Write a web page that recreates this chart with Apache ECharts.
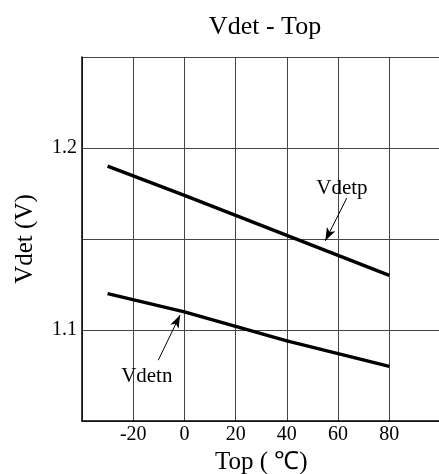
<!DOCTYPE html>
<html>
<head>
<meta charset="utf-8">
<script src="https://cdn.jsdelivr.net/npm/echarts@6/dist/echarts.min.js"></script>
<style>
html,body{margin:0;padding:0;background:#fff;}
#chart{width:439px;height:474px;}
</style>
</head>
<body>
<div id="chart"></div>
<script>
var temps = [-30, 0, 20, 40, 60, 80];
var vdetp = [1.190, 1.174, 1.163, 1.152, 1.141, 1.130];
var vdetn = [1.120, 1.110, 1.102, 1.094, 1.087, 1.080];
var xTicks = [-20, 0, 20, 40, 60, 80];
var yTicks = [1.1, 1.2];
// annotations: label position, arrow start, arrow end (data coords)
var vdetpLabel = [61.5, 1.1775];
var vdetpArrow = [[63.4, 1.1725], [55.0, 1.149]];
var vdetnLabel = [-14.7, 1.0742];
var vdetnArrow = [[-10.2, 1.0834], [-1.7, 1.1082]];

var serif = '"Liberation Serif", "Times New Roman", serif';

function pairs(xs, ys) { return xs.map(function (x, i) { return [x, ys[i]]; }); }

function annot(label, arrow, name) {
  return {
    markLine: {
      silent: true, animation: false,
      symbol: ['none', 'arrow'], symbolSize: [7, 13],
      lineStyle: { color: '#000', width: 1, type: 'solid' },
      label: { show: false },
      data: [[{ coord: arrow[0] }, { coord: arrow[1] }]]
    },
    markPoint: {
      silent: true, animation: false,
      symbol: 'circle', symbolSize: 0,
      label: { show: true, position: 'inside', formatter: name, color: '#000', fontFamily: serif, fontSize: 21 },
      data: [{ coord: label, name: name }]
    }
  };
}

var chart = echarts.init(document.getElementById('chart'));
var sp = Object.assign({
  type: 'line', name: 'Vdetp', data: pairs(temps, vdetp), showSymbol: false, smooth: false,
  lineStyle: { color: '#000', width: 3.4 }, animation: false
}, annot(vdetpLabel, vdetpArrow, 'Vdetp'));
var sn = Object.assign({
  type: 'line', name: 'Vdetn', data: pairs(temps, vdetn), showSymbol: false, smooth: false,
  lineStyle: { color: '#000', width: 3.4 }, animation: false
}, annot(vdetnLabel, vdetnArrow, 'Vdetn'));

chart.setOption({
  backgroundColor: '#fff',
  animation: false,
  title: {
    text: 'Vdet - Top', left: 260, top: 9, textAlign: 'center',
    textStyle: { fontFamily: serif, fontSize: 26, fontWeight: 'normal', color: '#000' }
  },
  grid: { left: 82, top: 57, width: 358.5, bottom: 53, containLabel: false, outerBoundsMode: 'none' },
  xAxis: {
    type: 'value', min: -40, max: 100, interval: 20,
    name: 'Top ( ℃)', nameLocation: 'middle', nameGap: 21,
    nameTextStyle: { fontFamily: serif, fontSize: 25, color: '#000' },
    axisLine: { show: true, onZero: false, lineStyle: { color: '#000', width: 1.5 } },
    axisTick: { show: false },
    axisLabel: {
      margin: 4, fontFamily: serif, fontSize: 20, color: '#000',
      formatter: function (v) { return xTicks.indexOf(v) >= 0 ? String(v) : ''; }
    },
    splitLine: { show: true, lineStyle: { color: '#444', width: 1 } }
  },
  yAxis: {
    type: 'value', min: 1.05, max: 1.25, interval: 0.05,
    name: 'Vdet (V)', nameLocation: 'middle', nameGap: 44, nameRotate: 90,
    nameTextStyle: { fontFamily: serif, fontSize: 25, color: '#000' },
    axisLine: { show: true, onZero: false, lineStyle: { color: '#000', width: 1.5 } },
    axisTick: { show: false },
    axisLabel: {
      margin: 5, fontFamily: serif, fontSize: 20, color: '#000',
      formatter: function (v) {
        var r = Math.round(v * 100) / 100;
        return yTicks.indexOf(r) >= 0 ? r.toFixed(1) : '';
      }
    },
    splitLine: { show: true, lineStyle: { color: '#444', width: 1 } }
  },
  series: [sp, sn]
});
</script>
</body>
</html>
